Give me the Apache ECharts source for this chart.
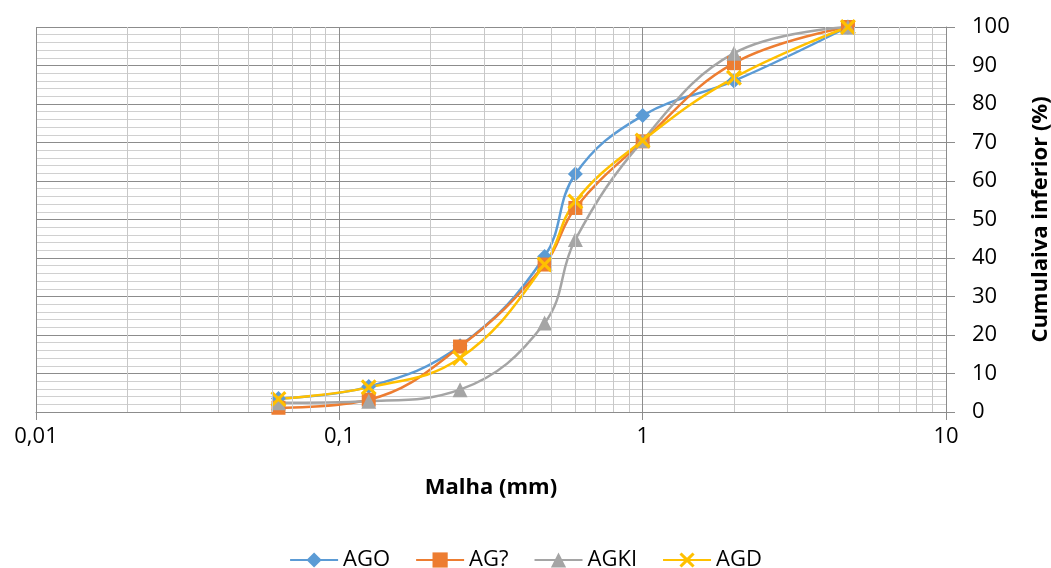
<!DOCTYPE html>
<html>
<head>
<meta charset="utf-8">
<script src="https://cdn.jsdelivr.net/npm/echarts@6/dist/echarts.min.js"></script>
<style>html,body{margin:0;padding:0;background:#fff}#c{width:1051px;height:568px}</style>
</head>
<body>
<div id="c"></div>
<script>
var sieves = [0.063, 0.125, 0.25, 0.475, 0.6, 1, 2, 4.75];
var AGO  = [3.5, 6.6, 17.2, 40.4, 61.8, 77.0, 86.0, 100];
var AGQ  = [1.1, 3.2, 17.0, 38.3, 53.0, 70.3, 90.6, 100];
var AGKI = [2.4, 2.8, 5.8, 23.1, 44.8, 70.5, 93.2, 100];
var AGD  = [3.4, 6.4, 14.0, 38.3, 54.7, 70.5, 86.8, 100];
var seriesNames = ['AGO', 'AG?', 'AGKI', 'AGD'];
var xTickLabels = ['0,01', '0,1', '1', '10'];
var xMinorGrid = [0.02,0.03,0.04,0.05,0.06,0.07,0.08,0.09,0.2,0.3,0.4,0.5,0.6,0.7,0.8,0.9,2,3,4,5,6,7,8,9];

var FONT = 'Open Sans';
function zip(v){ return sieves.map(function(s,i){ return [s, v[i]]; }); }
var colors = ['#5B9BD5', '#ED7D31', '#A5A5A5', '#FFC000'];
var xPath = 'path://M0,1.4L1.4,0L5,3.6L8.6,0L10,1.4L6.4,5L10,8.6L8.6,10L5,6.4L1.4,10L0,8.6L3.6,5Z';
var symbols = ['diamond', 'rect', 'triangle', xPath];
var sizes = [15, 14, 15, 16];
var vals = [AGO, AGQ, AGKI, AGD];

var series = [{
  type: 'line', data: [], silent: true, z: 1, legendHoverLink: false,
  markLine: {
    silent: true, symbol: 'none', animation: false,
    label: {show: false},
    lineStyle: {color: '#c8c8c8', type: 'solid', width: 1},
    data: xMinorGrid.map(function(x){ return {xAxis: x}; })
  }
}];
vals.forEach(function(v, i){
  series.push({
    name: seriesNames[i], type: 'line', data: zip(v), smooth: 0.4, z: 3,
    symbol: symbols[i], symbolSize: sizes[i], showAllSymbol: true,
    lineStyle: {color: colors[i], width: 2.5},
    itemStyle: {color: colors[i]},
    color: colors[i]
  });
});

var chart = echarts.init(document.getElementById('c'), null, {renderer: 'canvas'});
chart.setOption({
  animation: false,
  textStyle: {fontFamily: FONT},
  grid: {left: 36, right: 105, top: 27, bottom: 156, containLabel: false, outerBoundsMode: 'none'},
  legend: {
    data: seriesNames, bottom: -8, left: 'center',
    itemWidth: 48, itemHeight: 19, itemGap: 25,
    textStyle: {fontFamily: FONT, fontSize: 22, color: '#000'}
  },
  xAxis: {
    type: 'log', logBase: 10, min: 0.01, max: 10,
    name: 'Malha (mm)', nameLocation: 'middle', nameGap: 65,
    nameTextStyle: {fontFamily: FONT, fontSize: 22, fontWeight: 'bold', color: '#000'},
    axisLine: {show: true, lineStyle: {color: '#8c8c8c', width: 1}},
    axisTick: {show: true, length: 8, lineStyle: {color: '#8c8c8c'}},
    axisLabel: {
      fontFamily: FONT, fontSize: 22, color: '#000', margin: 14,
      formatter: function(v){ return xTickLabels[Math.round(Math.log10(v)) + 2]; }
    },
    splitLine: {show: true, lineStyle: {color: '#8c8c8c', width: 1}}
  },
  yAxis: {
    type: 'value', position: 'right', min: 0, max: 100, interval: 10,
    name: 'Cumulaiva inferior (%)', nameLocation: 'middle', nameGap: 84, nameRotate: 90,
    nameTextStyle: {fontFamily: FONT, fontSize: 22, fontWeight: 'bold', color: '#000'},
    axisLine: {show: true, lineStyle: {color: '#8c8c8c', width: 1}},
    axisTick: {show: true, inside: false, length: 9, lineStyle: {color: '#8c8c8c'}},
    axisLabel: {fontFamily: FONT, fontSize: 22, color: '#000', margin: 26},
    splitLine: {show: true, lineStyle: {color: '#8c8c8c', width: 1}},
    minorTick: {show: false, splitNumber: 5},
    minorSplitLine: {show: true, lineStyle: {color: '#d0d0d0', width: 1}}
  },
  series: series
});
</script>
</body>
</html>
